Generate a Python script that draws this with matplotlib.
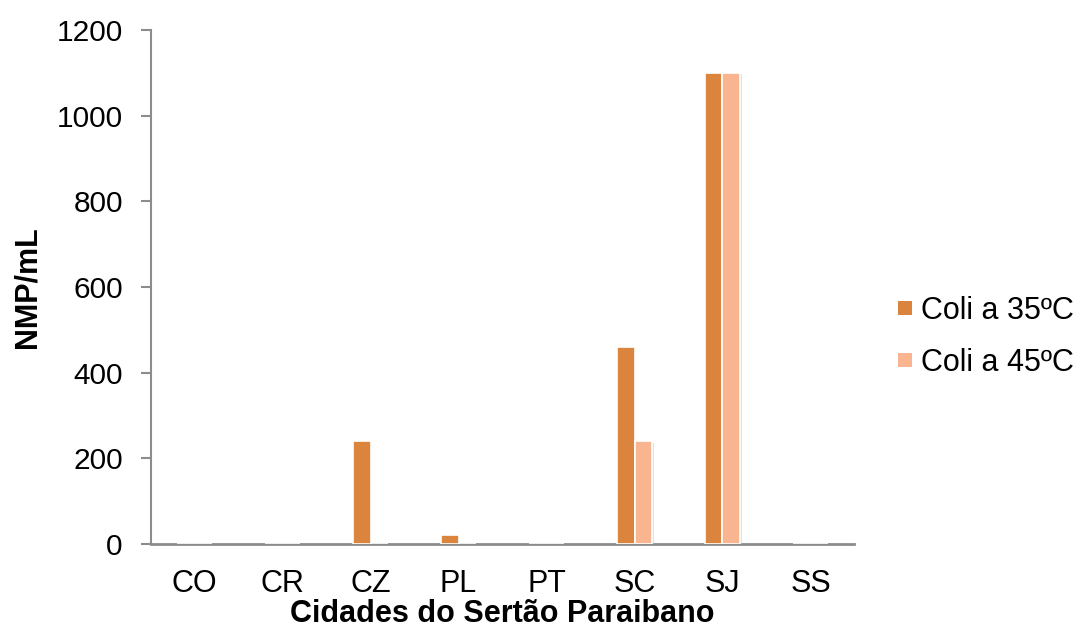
import matplotlib.pyplot as plt
import matplotlib.patheffects as pe
import numpy as np

plt.rcParams['font.family'] = ['Liberation Sans', 'DejaVu Sans']

cidades = ['CO', 'CR', 'CZ', 'PL', 'PT', 'SC', 'SJ', 'SS']
coli_35 = [0, 0, 240, 20, 0, 460, 1100, 0]
coli_45 = [0, 0, 0, 0, 0, 240, 1100, 0]
y_ticks = [0, 200, 400, 600, 800, 1000, 1200]

cor_35 = '#DB843D'
cor_45 = '#F9B590'

fig = plt.figure(figsize=(10.83, 6.39), dpi=100)
ax = fig.add_axes([0.139, 0.1487, 0.650, 0.8044])

x = np.arange(len(cidades))
w = 0.2
sombra = [pe.SimplePatchShadow(offset=(1.2, -1.2), shadow_rgbFace='#bfbfbf', alpha=0.45),
          pe.Normal()]
ax.bar(x - w / 2, coli_35, w, color=cor_35, edgecolor='white', linewidth=1.2,
       label='Coli a 35ºC', zorder=3, path_effects=sombra)
ax.bar(x + w / 2, coli_45, w, color=cor_45, edgecolor='white', linewidth=1.2,
       label='Coli a 45ºC', zorder=3, path_effects=sombra)

ax.set_xlim(-0.5, len(cidades) - 0.5)
ax.set_ylim(0, 1200)
ax.set_yticks(y_ticks)
ax.set_xticks(x)
ax.set_xticklabels(cidades)

for s in ['top', 'right']:
    ax.spines[s].set_visible(False)
ax.spines['left'].set_color('#8c8c8c')
ax.spines['bottom'].set_color('#8c8c8c')
ax.spines['left'].set_linewidth(1.5)
ax.spines['bottom'].set_linewidth(2)
ax.tick_params(axis='y', length=7, width=1.5, color='#8c8c8c', labelsize=21.5, pad=13)
ax.tick_params(axis='x', length=0, labelsize=22, pad=18)

ax.set_xlabel('Cidades do Sertão Paraibano', fontsize=22, fontweight='bold', labelpad=0)
ax.set_ylabel('NMP/mL', fontsize=22, fontweight='bold', labelpad=10)

leg = ax.legend(loc='center left', bbox_to_anchor=(898 / 1083, 1 - 337 / 639),
                bbox_transform=fig.transFigure, frameon=False, fontsize=22,
                handlelength=0.46, handleheight=0.33, handletextpad=0.3,
                labelspacing=0.7, borderpad=0, borderaxespad=0)
for h in leg.legend_handles:
    h.set_path_effects([])
    h.set_edgecolor('none')

fig.savefig('out.png', dpi=100)
